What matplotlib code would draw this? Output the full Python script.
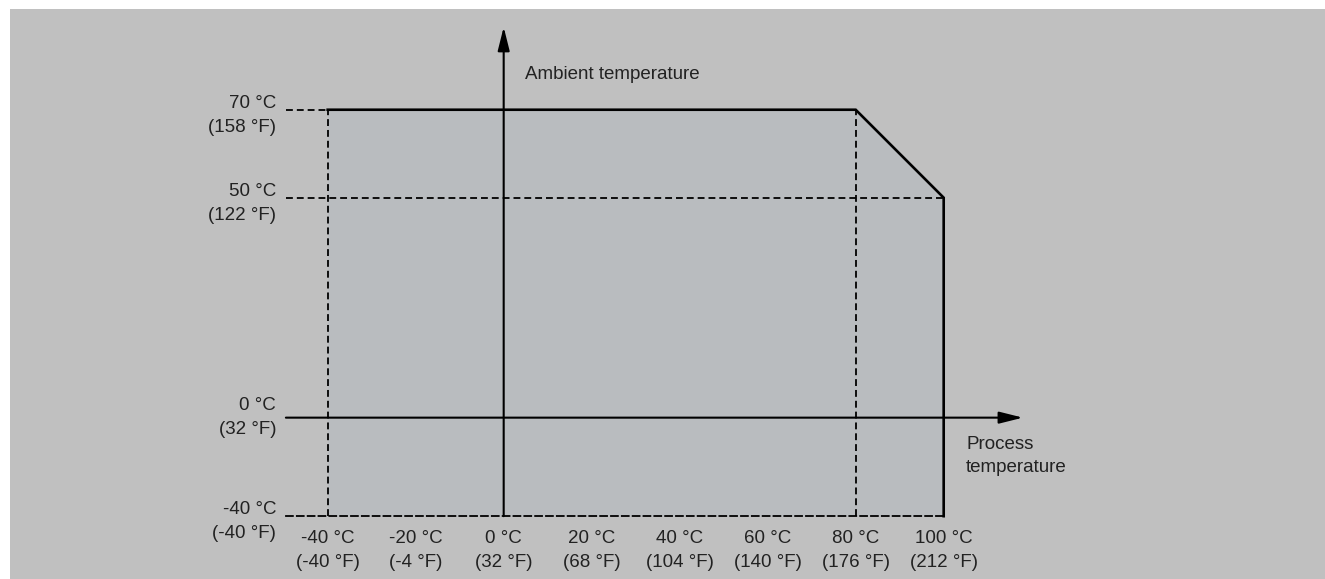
import numpy as np
import matplotlib.pyplot as plt
import matplotlib.transforms as mtransforms
from matplotlib.patches import Rectangle

# Axis tick values (°C with °F equivalents)
x_ticks_c = [-40, -20, 0, 20, 40, 60, 80, 100]
x_ticks_f = [-40, -4, 32, 68, 104, 140, 176, 212]
x_minor = [-20, 20, 40, 60]
y_ticks_c = [-40, 0, 50, 70]
y_ticks_f = [-40, 32, 122, 158]

# Permitted operating area (process temp vs ambient temp)
area_x = [-40, 80, 100]
area_top = [70, 70, 50]
area_bottom = -40

plt.rcParams['font.family'] = ['Liberation Sans', 'DejaVu Sans']
text_color = '#222222'
bg_color = '#c0c0c0'
fill_color = '#b9bcbf'

# the negative part of the ambient axis is drawn compressed
neg_k = 0.56


def fwd(y):
    y = np.asarray(y, dtype=float)
    return np.where(y >= 0, y, y * neg_k)


def inv(y):
    y = np.asarray(y, dtype=float)
    return np.where(y >= 0, y, y / neg_k)


fig = plt.figure(figsize=(13.25, 5.79), dpi=100)
fig.patch.set_facecolor(bg_color)
# white margin on the left and top
fig.patches.append(Rectangle((0, 0), 10 / 1325, 1, transform=fig.transFigure,
                             facecolor='white', lw=0, zorder=0))
fig.patches.append(Rectangle((0, 1 - 9 / 579), 1, 9 / 579, transform=fig.transFigure,
                             facecolor='white', lw=0, zorder=0))

ax = fig.add_axes([10 / 1325, 0, 1 - 10 / 1325, 1 - 9 / 579])
ax.set_facecolor(bg_color)
ax.set_yscale('function', functions=(fwd, inv))
ax.set_xlim(-112.2, 186.66)
ax.set_ylim(-65.5, 92.9)

x_start = -49.5
dash = (0, (3.8, 2.2))

# shaded area
ax.fill_between(area_x, area_top, area_bottom, color=fill_color, lw=0, zorder=1)

# dashed guide lines
ax.plot([x_start, area_x[0]], [area_top[0], area_top[0]], color='black', lw=1.3, ls=dash, zorder=2)
ax.plot([x_start, area_x[-1]], [area_top[-1], area_top[-1]], color='black', lw=1.3, ls=dash, zorder=2)
ax.plot([area_x[0], area_x[0]], [area_bottom, area_top[0]], color='black', lw=1.3, ls=dash, zorder=2)
ax.plot([area_x[1], area_x[1]], [area_bottom, area_top[1]], color='black', lw=1.3, ls=dash, zorder=2)

# bottom dashed line is the x spine, left spine carries the y labels
for side in ['top', 'right']:
    ax.spines[side].set_visible(False)
ax.spines['bottom'].set_position(('data', area_bottom))
ax.spines['bottom'].set_bounds(x_start, area_x[-1])
ax.spines['bottom'].set_linestyle(dash)
ax.spines['bottom'].set_linewidth(1.3)
ax.spines['bottom'].set_zorder(2)
ax.spines['left'].set_position(('data', x_start))
ax.spines['left'].set_visible(False)

ax.set_xticks(x_ticks_c)
ax.set_xticklabels([f'{c} °C\n({f} °F)' for c, f in zip(x_ticks_c, x_ticks_f)])
ax.set_xticks(x_minor, minor=True)
ax.tick_params(axis='x', which='major', length=0, pad=10, labelsize=13.5, labelcolor=text_color)
ax.tick_params(axis='x', which='minor', length=12, width=1.3, direction='inout', color='black')
ax.set_yticks(y_ticks_c)
ax.set_yticklabels([f'{c} °C\n({f} °F)' for c, f in zip(y_ticks_c, y_ticks_f)])
ax.yaxis.set_minor_locator(plt.NullLocator())
ax.tick_params(axis='y', length=0, pad=7, labelsize=13.5, labelcolor=text_color)
for lab in ax.get_xticklabels() + ax.get_yticklabels():
    lab.set_linespacing(1.55)

# the 0 °C label sits a little higher in the original
zero_lab = ax.get_yticklabels()[y_ticks_c.index(0)]
zero_lab.set_transform(zero_lab.get_transform() +
                       mtransforms.ScaledTranslation(0, 6 / 100, fig.dpi_scale_trans))

# solid boundary
bx = [area_x[0]] + area_x + [area_x[-1]]
by = [area_top[0]] + area_top + [area_bottom]
ax.plot(bx[1:], by[1:], color='black', lw=1.9, solid_joinstyle='miter', zorder=4)

# axes arrows
arrow = dict(arrowstyle='-|>,head_length=1.44,head_width=0.36', mutation_scale=10,
             color='black', lw=1.5, shrinkA=0, shrinkB=0)
ax.annotate('', xy=(0, 88.8), xytext=(0, area_bottom), arrowprops=arrow, zorder=5)
ax.annotate('', xy=(118, 0), xytext=(x_start, 0), arrowprops=arrow, zorder=5)

ax.text(4.8, 78.0, 'Ambient temperature', fontsize=13.5, color=text_color,
        ha='left', va='center')
ax.text(105.1, -15.5, 'Process\ntemperature', fontsize=13.5, color=text_color,
        ha='left', va='center', linespacing=1.45)

fig.savefig('out.png', dpi=100, facecolor=bg_color)
